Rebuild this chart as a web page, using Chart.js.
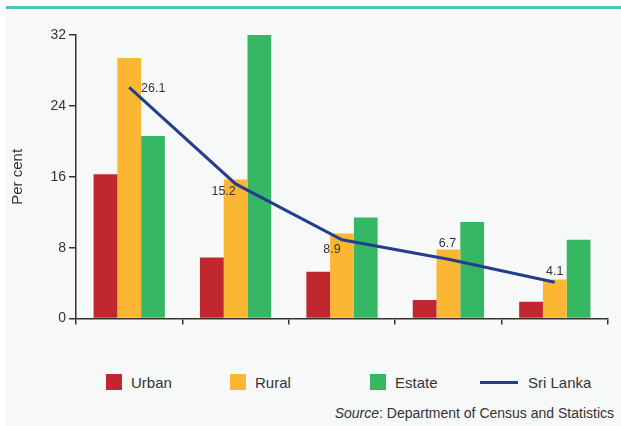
<!DOCTYPE html>
<html>
<head>
<meta charset="utf-8">
<script src="https://cdn.jsdelivr.net/npm/chart.js@4/dist/chart.umd.min.js"></script>
<style>
  body { margin: 0; background: #fff; font-family: "Liberation Sans", Arial, sans-serif; }
  #panel { position: absolute; left: 6px; top: 6px; width: 615px; height: 417px; background: #f7f9f9; border-top: 3px solid #4fc1ba; }
  #wrap { position: absolute; left: 0; top: 0; width: 621px; height: 330px; }
  .leg { position: absolute; top: 374px; height: 16px; display: flex; align-items: center; font-size: 15px; color: #333; white-space: nowrap; }
  .leg .box { width: 16px; height: 16px; margin-right: 9px; }
  .leg .ln { width: 38px; height: 3px; margin-right: 10px; }
  #source { position: absolute; right: 7px; top: 405px; font-size: 14px; color: #333; }
</style>
</head>
<body>
<div id="panel"></div>
<div id="wrap"><canvas id="chart" width="621" height="330"></canvas></div>
<div id="legend"></div>
<div id="source"><i>Source</i>: Department of Census and Statistics</div>
<script>
// valores (percentagem)
const categories = ['1', '2', '3', '4', '5'];
const urban = [16.3, 6.9, 5.3, 2.1, 1.9];
const rural = [29.4, 15.7, 9.6, 7.8, 4.4];
const estate = [20.6, 32.0, 11.4, 10.9, 8.9];
const sriLanka = [26.1, 15.2, 8.9, 6.7, 4.1];
const yTicks = [0, 8, 16, 24, 32];

// deslocamento dos rótulos da linha (px)
const labelOffsets = [[24, 1], [-12, 8], [-10, 10], [-1, -16], [0, -11]];

Chart.defaults.font.family = '"Liberation Sans", Arial, sans-serif';
Chart.defaults.color = '#333';

const lineLabels = {
    id: 'lineLabels',
    afterDatasetsDraw(chart) {
        const ctx = chart.ctx;
        const meta = chart.getDatasetMeta(3);
        ctx.save();
        ctx.font = '12.5px "Liberation Sans", Arial, sans-serif';
        ctx.fillStyle = '#333';
        ctx.textAlign = 'center';
        ctx.textBaseline = 'middle';
        meta.data.forEach(function(pt, i) {
            const v = chart.data.datasets[3].data[i];
            ctx.fillText(v.toFixed(1), pt.x + labelOffsets[i][0], pt.y + labelOffsets[i][1]);
        });
        ctx.restore();
    }
};

const ctx = document.getElementById('chart').getContext('2d');
const chart = new Chart(ctx, {
    data: {
        labels: categories,
        datasets: [
            { type: 'bar', label: 'Urban', data: urban, backgroundColor: '#c1272f', order: 2 },
            { type: 'bar', label: 'Rural', data: rural, backgroundColor: '#fbb733', order: 2 },
            { type: 'bar', label: 'Estate', data: estate, backgroundColor: '#36b763', order: 2 },
            { type: 'line', label: 'Sri Lanka', data: sriLanka, borderColor: '#243d8c', borderWidth: 3,
              pointRadius: 0, tension: 0, fill: false, order: 1 }
        ]
    },
    options: {
        responsive: false,
        animation: false,
        layout: { padding: { top: 35, right: 13, left: 0, bottom: 0 } },
        datasets: { bar: { barPercentage: 1, categoryPercentage: 0.67 } },
        plugins: { legend: { display: false }, tooltip: { enabled: false } },
        scales: {
            x: {
                grid: { offset: true, drawOnChartArea: false, tickLength: 6, color: '#333', lineWidth: 1.5 },
                border: { color: '#333', width: 1.5 },
                ticks: { display: false },
                afterFit(scale) { scale.height = 8; }
            },
            y: {
                min: 0,
                max: 32,
                afterBuildTicks(scale) { scale.ticks = yTicks.map(v => ({ value: v })); },
                ticks: { font: { size: 14 }, color: '#333', padding: 3 },
                grid: { drawOnChartArea: false, tickLength: 7, color: '#333', lineWidth: 1.5 },
                border: { color: '#333', width: 1.5 },
                title: { display: true, text: 'Per cent', font: { size: 15 }, color: '#333', padding: { top: 9, bottom: 0 } },
                afterFit(scale) { scale.width = 76; }
            }
        }
    },
    plugins: [lineLabels]
});

// legenda em HTML, com as posições do original
const legendX = [106, 230, 370, 480];
const legend = document.getElementById('legend');
chart.data.datasets.forEach(function(ds, i) {
    const item = document.createElement('div');
    item.className = 'leg';
    item.style.left = legendX[i] + 'px';
    const mark = document.createElement('span');
    if (ds.type === 'line') {
        mark.className = 'ln';
        mark.style.background = ds.borderColor;
    } else {
        mark.className = 'box';
        mark.style.background = ds.backgroundColor;
    }
    item.appendChild(mark);
    item.appendChild(document.createTextNode(ds.label));
    legend.appendChild(item);
});
</script>
</body>
</html>
